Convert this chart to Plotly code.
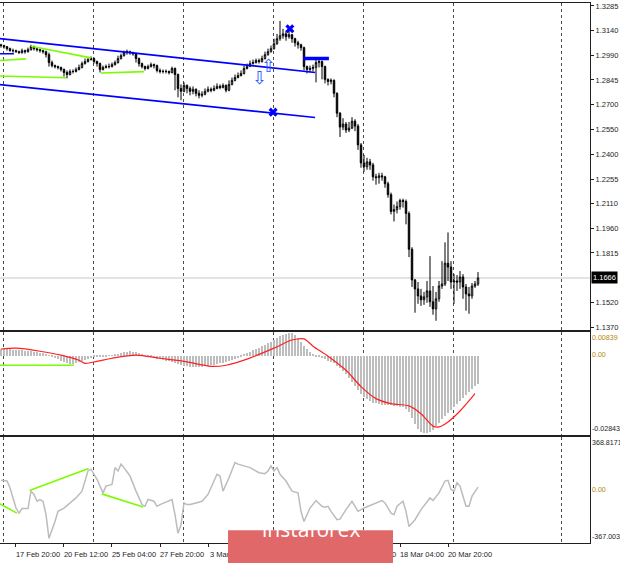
import plotly.graph_objects as go

# ---------------- DATA (GBPUSD H4) ----------------
OPEN_FIRST = 1.3054
CLOSE = [1.3049, 1.3043, 1.3031, 1.3019, 1.3019, 1.3013, 1.3007, 1.3019, 1.3013, 1.3025,
         1.3043, 1.3031, 1.3025, 1.3019, 1.3013, 1.2995, 1.2948, 1.2930, 1.2924, 1.2919,
         1.2907, 1.2889, 1.2877, 1.2895, 1.2895, 1.2907, 1.2919, 1.2942, 1.2954, 1.2966,
         1.2972, 1.2954, 1.2942, 1.2907, 1.2919, 1.2924, 1.2924, 1.2936, 1.2948, 1.2972,
         1.2989, 1.3007, 1.3013, 1.3007, 1.3001, 1.2972, 1.2942, 1.2924, 1.2913, 1.2924,
         1.2936, 1.2930, 1.2901, 1.2895, 1.2895, 1.2895, 1.2889, 1.2913, 1.2877, 1.2794,
         1.2777, 1.2812, 1.2794, 1.2777, 1.2789, 1.2765, 1.2753, 1.2759, 1.2777, 1.2789,
         1.2783, 1.2794, 1.2806, 1.2800, 1.2812, 1.2783, 1.2818, 1.2842, 1.2859, 1.2871,
         1.2883, 1.2913, 1.2924, 1.2942, 1.2948, 1.2960, 1.2954, 1.2972, 1.2995, 1.3013,
         1.3031, 1.3060, 1.3090, 1.3108, 1.3119, 1.3102, 1.3114, 1.3090, 1.3066, 1.3054,
         1.3037, 1.2924, 1.2907, 1.2913, 1.2919, 1.2948, 1.2954, 1.2924, 1.2848, 1.2836,
         1.2842, 1.2765, 1.2647, 1.2564, 1.2582, 1.2546, 1.2558, 1.2599, 1.2570, 1.2458,
         1.2351, 1.2328, 1.2357, 1.2339, 1.2268, 1.2263, 1.2274, 1.2268, 1.2227, 1.2162,
         1.2062, 1.2073, 1.2091, 1.2127, 1.2121, 1.2050, 1.1837, 1.1654, 1.1601, 1.1559,
         1.1536, 1.1553, 1.1589, 1.1524, 1.1482, 1.1542, 1.1618, 1.1630, 1.1754, 1.1731,
         1.1642, 1.1648, 1.1642, 1.1672, 1.1612, 1.1571, 1.1559, 1.1618, 1.1630, 1.1666]
HIGH = [1.3060, 1.3054, 1.3043, 1.3037, 1.3031, 1.3025, 1.3019, 1.3031, 1.3025, 1.3037,
        1.3054, 1.3049, 1.3037, 1.3031, 1.3025, 1.3019, 1.3007, 1.2960, 1.2936, 1.2930,
        1.2924, 1.2913, 1.2901, 1.2907, 1.2907, 1.2919, 1.2936, 1.2954, 1.2972, 1.2978,
        1.2984, 1.2978, 1.2960, 1.2948, 1.2930, 1.2936, 1.2942, 1.2948, 1.2960, 1.2989,
        1.3001, 1.3019, 1.3025, 1.3019, 1.3013, 1.3007, 1.2978, 1.2948, 1.2930, 1.2936,
        1.2948, 1.2942, 1.2936, 1.2913, 1.2907, 1.2907, 1.2901, 1.2924, 1.2919, 1.2883,
        1.2818, 1.2830, 1.2818, 1.2806, 1.2806, 1.2794, 1.2783, 1.2777, 1.2794, 1.2806,
        1.2800, 1.2812, 1.2824, 1.2818, 1.2824, 1.2818, 1.2842, 1.2859, 1.2877, 1.2889,
        1.2901, 1.2930, 1.2942, 1.2960, 1.2966, 1.2972, 1.2972, 1.2989, 1.3013, 1.3031,
        1.3049, 1.3090, 1.3119, 1.3196, 1.3149, 1.3137, 1.3143, 1.3119, 1.3096, 1.3078,
        1.3060, 1.3043, 1.2930, 1.2930, 1.2936, 1.2966, 1.2972, 1.2960, 1.2930, 1.2854,
        1.2854, 1.2848, 1.2771, 1.2653, 1.2617, 1.2594, 1.2594, 1.2623, 1.2611, 1.2582,
        1.2469, 1.2399, 1.2381, 1.2375, 1.2351, 1.2286, 1.2292, 1.2292, 1.2274, 1.2239,
        1.2174, 1.2103, 1.2121, 1.2138, 1.2138, 1.2133, 1.2062, 1.1849, 1.1660, 1.1642,
        1.1601, 1.1583, 1.1648, 1.1796, 1.1618, 1.1583, 1.1648, 1.1766, 1.1878, 1.1937,
        1.1766, 1.1689, 1.1683, 1.1707, 1.1689, 1.1630, 1.1612, 1.1636, 1.1648, 1.1701]
LOW = [1.3037, 1.3031, 1.3019, 1.3013, 1.3007, 1.3007, 1.3001, 1.3001, 1.3001, 1.3007,
       1.3019, 1.3019, 1.3013, 1.3007, 1.3001, 1.2978, 1.2924, 1.2919, 1.2913, 1.2907,
       1.2895, 1.2865, 1.2854, 1.2871, 1.2883, 1.2889, 1.2901, 1.2913, 1.2936, 1.2948,
       1.2960, 1.2942, 1.2924, 1.2889, 1.2901, 1.2913, 1.2913, 1.2919, 1.2930, 1.2942,
       1.2966, 1.2984, 1.2995, 1.2995, 1.2989, 1.2948, 1.2924, 1.2913, 1.2901, 1.2907,
       1.2919, 1.2913, 1.2889, 1.2883, 1.2883, 1.2883, 1.2877, 1.2883, 1.2783, 1.2741,
       1.2724, 1.2771, 1.2765, 1.2753, 1.2759, 1.2747, 1.2735, 1.2741, 1.2753, 1.2771,
       1.2771, 1.2777, 1.2789, 1.2789, 1.2794, 1.2771, 1.2777, 1.2812, 1.2836, 1.2854,
       1.2865, 1.2877, 1.2907, 1.2924, 1.2936, 1.2942, 1.2942, 1.2948, 1.2966, 1.2989,
       1.3007, 1.3025, 1.3054, 1.3078, 1.3090, 1.3078, 1.3090, 1.3066, 1.3043, 1.3031,
       1.3019, 1.2901, 1.2883, 1.2889, 1.2895, 1.2830, 1.2919, 1.2848, 1.2824, 1.2812,
       1.2818, 1.2741, 1.2623, 1.2505, 1.2546, 1.2529, 1.2534, 1.2552, 1.2540, 1.2428,
       1.2322, 1.2298, 1.2310, 1.2310, 1.2245, 1.2221, 1.2227, 1.2245, 1.2203, 1.2144,
       1.2044, 1.2002, 1.2050, 1.2073, 1.2085, 1.1985, 1.1790, 1.1612, 1.1459, 1.1512,
       1.1500, 1.1506, 1.1518, 1.1494, 1.1447, 1.1411, 1.1524, 1.1601, 1.1618, 1.1648,
       1.1601, 1.1512, 1.1589, 1.1601, 1.1542, 1.1471, 1.1453, 1.1542, 1.1607, 1.1618]
CURRENT_PRICE = 1.1666

MACD_MAIN = [0.0024, 0.0024, 0.0023, 0.0022, 0.0021, 0.0020, 0.0019, 0.0018, 0.0017, 0.0016, 0.0016,
             0.0014, 0.0012, 0.0010, 0.0008, 0.0005, 0.0001, -0.0004, -0.0008,
             -0.0013, -0.0018, -0.0023, -0.0027, -0.0030, -0.0029, -0.0027,
             -0.0024, -0.0020, -0.0016, -0.0012, -0.0009, -0.0006, -0.0004,
             -0.0005, -0.0004, -0.0003, -0.0001, 0.0001, 0.0003, 0.0006, 0.0008,
             0.0011, 0.0014, 0.0015, 0.0014, 0.0012, 0.0009,
             0.0005, 0.0001, -0.0003, -0.0006, -0.0008, -0.0011,
             -0.0014, -0.0016, -0.0018, -0.0020, -0.0022, -0.0025, -0.0029, -0.0033, -0.0036, -0.0038,
             -0.0040, -0.0041, -0.0042, -0.0042,
             -0.0041, -0.0039, -0.0037, -0.0035, -0.0033, -0.0030, -0.0027, -0.0025, -0.0023, -0.0020,
             -0.0016, -0.0012, -0.0008, -0.0003,
             0.0003, 0.0009, 0.0014, 0.0019, 0.0024, 0.0028, 0.0033, 0.0038, 0.0044, 0.0050,
             0.0057, 0.0064, 0.0070, 0.0075, 0.0078, 0.0080, 0.0079,
             0.0075, 0.0062, 0.0050, 0.0035, 0.0022, 0.0012, 0.0004,
             -0.0003, -0.0007, -0.0010, -0.0014, -0.0018, -0.0022, -0.0028, -0.0036, -0.0045, -0.0055,
             -0.0065, -0.0080, -0.0095, -0.0110, -0.0124, -0.0136, -0.0147, -0.0156, -0.0163, -0.0168,
             -0.0171, -0.0173, -0.0175, -0.0176, -0.0177, -0.0178, -0.0179, -0.0180, -0.0182, -0.0185,
             -0.0190, -0.0200, -0.0222, -0.0245, -0.0262, -0.0272, -0.0276, -0.0276, -0.0272, -0.0264,
             -0.0252, -0.0240, -0.0228, -0.0216, -0.0204, -0.0193, -0.0183, -0.0173, -0.0163, -0.0152,
             -0.0140, -0.0129, -0.0118, -0.0108, -0.0100]
SIGNAL_BARS = [0, 5, 13, 20, 26, 28, 32, 37, 45, 53, 61, 70, 75, 82, 91, 97, 101, 104, 109,
               115, 120, 125, 130, 136, 140, 144, 146, 149, 153, 158]
SIGNAL_VALUES = [0.0022, 0.0025, 0.0014, 0.0000, -0.0018, -0.0029, -0.0022, -0.0011, 0.0000,
                 -0.0011, -0.0022, -0.0040, -0.0036, -0.0014, 0.0025, 0.0054, 0.0058, 0.0032,
                 -0.0004, -0.0054, -0.0112, -0.0155, -0.0173, -0.0181, -0.0209, -0.0253,
                 -0.0256, -0.0238, -0.0199, -0.0137]
MACD_TOP, MACD_BOTTOM = 0.00839, -0.02843

CCI_BARS = [0, 2, 3, 5, 6, 7, 9, 10, 11, 12, 13, 14, 15, 16, 18, 19, 21, 23, 25, 27, 29, 30,
            32, 34, 35, 37, 38, 39, 40, 41, 43, 45, 47, 48, 49, 51, 52, 53, 56, 57, 58, 59,
            60, 61, 62, 63, 65, 67, 69, 71, 72, 73, 74, 76, 78, 79, 81, 83, 86, 88, 89, 90,
            91, 92, 93, 95, 97, 99, 100, 101, 103, 105, 107, 108, 109, 110, 112, 113, 115,
            117, 118, 119, 121, 123, 125, 127, 128, 130, 131, 132, 134, 135, 136, 138, 140,
            142, 143, 144, 146, 148, 149, 150, 151, 152, 153, 154, 155, 156, 157, 159]
CCI_VALUES = [68, 63, 16, -124, -159, -128, -128, -7, -30, -77, -65, -77, -170, -334, -217,
              -147, -124, -89, -54, -7, 133, 145, 75, -19, 28, 40, 156, 133, 180, 156, 98, -7,
              -100, -112, -65, -77, -112, -100, -77, -65, -170, -299, -240, -89, -100, -100,
              -89, -77, -30, 63, 110, 98, -7, 86, 191, 180, 168, 156, 121, 114, 133, 168, 133,
              156, 110, 63, -7, -19, -147, -217, -124, -72, -112, -119, -112, -147, -205, -201,
              -135, -77, -112, -147, -124, -105, -89, -72, -89, -159, -170, -112, -77, -147,
              -252, -205, -135, -82, -54, -72, -19, 63, 68, 5, -7, 51, 28, -42, -112, -112,
              -42, 21]
CCI_TOP, CCI_BOTTOM = 368.8171, -367.0034

# drawn objects (bar index, price / value)
CHANNEL_UPPER_BARS, CHANNEL_UPPER_PRICES = [-1, 104.7], [1.3092, 1.2889]
CHANNEL_LOWER_BARS, CHANNEL_LOWER_PRICES = [-1, 104.7], [1.2818, 1.2621]
LEVEL_LEFT_BARS, LEVEL_LEFT_PRICES = [-1, 4.3], [1.3001, 1.3001]
LEVEL_BREAK_BARS, LEVEL_BREAK_PRICES = [100.7, 109.3], [1.2972, 1.2972]
GREEN_MAIN_BARS = [[-1, 8.3], [10, 30], [-1, 21.7], [33.3, 47.7]]
GREEN_MAIN_PRICES = [[1.2960, 1.2970], [1.3045, 1.2976], [1.2868, 1.2858], [1.2886, 1.2894]]
GREEN_MACD_BARS, GREEN_MACD_VALUES = [-1, 24.3], [-0.0036, -0.0036]
GREEN_CCI_BARS = [[-1, 5.3], [9.5, 29.2], [33.6, 47.4]]
GREEN_CCI_VALUES = [[-88, -159], [-2, 149], [-26, -117]]
X_MARK_BARS, X_MARK_PRICES = [96.3, 90.7], [1.3149, 1.2653]
ARROW_BARS, ARROW_PRICES, ARROW_GLYPHS = [89.3, 86.3], [1.2919, 1.2848], ["\u21e7", "\u21e9"]

PRICE_TICKS = [1.3285, 1.3140, 1.2990, 1.2845, 1.2700, 1.2550, 1.2400, 1.2255,
               1.2110, 1.1960, 1.1815, 1.1520, 1.1370]
TIME_LABEL_BARS = [5, 21, 37, 53, 69, 85, 101, 117, 133, 149]
TIME_LABELS = ["17 Feb 20:00", "20 Feb 12:00", "25 Feb 04:00", "27 Feb 20:00", "3 Mar 12:00",
               "6 Mar 04:00", "10 Mar 20:00", "13 Mar 12:00", "18 Mar 04:00", "20 Mar 20:00"]
GRID_BARS = [0.67, 30.67, 60.67, 90.67, 120.67, 150.67, 186.67]

# ---------------- LAYOUT CONSTANTS ----------------
W, H = 620, 563
RIGHT_MARGIN = 30
X_RANGE = [-0.33, 196.33]
PRICE_RANGE = [1.13583, 1.33027]
PANELS_PX = {"main": (2, 331), "macd": (333, 437), "cci": (439, 546)}


def dom(top, bottom):
    return [1 - bottom / H, 1 - top / H]


FONT = "Liberation Sans, Arial, sans-serif"
AX_FONT = dict(family=FONT, size=7.5, color="#1e1e1e")
IND_SIZE = 7.1
GOLD = "#b8860b"
LIME = "#7cfc00"
BLUE = "#0000ff"

BARS = list(range(len(CLOSE)))
OPEN = [OPEN_FIRST] + CLOSE[:-1]

fig = go.Figure()

# main candles
fig.add_trace(go.Candlestick(
    x=BARS, open=OPEN, high=HIGH, low=LOW, close=CLOSE,
    increasing=dict(line=dict(color="black", width=1), fillcolor="white"),
    decreasing=dict(line=dict(color="black", width=1), fillcolor="black"),
    whiskerwidth=0, xaxis="x", yaxis="y", showlegend=False, hoverinfo="skip"))

# channel, levels
for bx, py, w in [(CHANNEL_UPPER_BARS, CHANNEL_UPPER_PRICES, 1.6),
                  (CHANNEL_LOWER_BARS, CHANNEL_LOWER_PRICES, 1.6),
                  (LEVEL_LEFT_BARS, LEVEL_LEFT_PRICES, 1.6),
                  (LEVEL_BREAK_BARS, LEVEL_BREAK_PRICES, 3.5)]:
    fig.add_trace(go.Scatter(x=bx, y=py, mode="lines", line=dict(color=BLUE, width=w),
                             xaxis="x", yaxis="y", showlegend=False, hoverinfo="skip"))
for bx, py in zip(GREEN_MAIN_BARS, GREEN_MAIN_PRICES):
    fig.add_trace(go.Scatter(x=bx, y=py, mode="lines", line=dict(color=LIME, width=1.6),
                             xaxis="x", yaxis="y", showlegend=False, hoverinfo="skip"))
fig.add_trace(go.Scatter(x=X_MARK_BARS, y=X_MARK_PRICES, mode="markers",
                         marker=dict(symbol="x", size=8, color=BLUE, line=dict(width=0)),
                         xaxis="x", yaxis="y", showlegend=False, hoverinfo="skip"))
fig.add_trace(go.Scatter(x=ARROW_BARS, y=ARROW_PRICES, mode="text", text=ARROW_GLYPHS,
                         textfont=dict(family="DejaVu Sans", size=18, color="#2f5bff"),
                         xaxis="x", yaxis="y", showlegend=False, hoverinfo="skip"))

# MACD
fig.add_trace(go.Bar(x=BARS, y=MACD_MAIN, width=0.55, marker=dict(color="#bdbdbd", line=dict(width=0)),
                     xaxis="x2", yaxis="y2", showlegend=False, hoverinfo="skip"))
fig.add_trace(go.Scatter(x=SIGNAL_BARS, y=SIGNAL_VALUES, mode="lines",
                         line=dict(color="#ff2020", width=1.2, shape="spline", smoothing=0.8),
                         xaxis="x2", yaxis="y2", showlegend=False, hoverinfo="skip"))
fig.add_trace(go.Scatter(x=GREEN_MACD_BARS, y=GREEN_MACD_VALUES, mode="lines",
                         line=dict(color=LIME, width=1.6),
                         xaxis="x2", yaxis="y2", showlegend=False, hoverinfo="skip"))

# CCI
fig.add_trace(go.Scatter(x=CCI_BARS, y=CCI_VALUES, mode="lines",
                         line=dict(color="#bcbcbc", width=1.5),
                         xaxis="x3", yaxis="y3", showlegend=False, hoverinfo="skip"))
for bx, vy in zip(GREEN_CCI_BARS, GREEN_CCI_VALUES):
    fig.add_trace(go.Scatter(x=bx, y=vy, mode="lines", line=dict(color=LIME, width=1.6),
                             xaxis="x3", yaxis="y3", showlegend=False, hoverinfo="skip"))

minor_grid = dict(tickmode="array", tickvals=GRID_BARS, showgrid=True, gridcolor="#4a4a4a",
                  griddash="dot", gridwidth=1, ticks="")
xcommon = dict(range=X_RANGE, domain=[0, 1], showline=True, linecolor="#202020", linewidth=1,
               mirror=True, showgrid=False, zeroline=False, fixedrange=True, minor=minor_grid)

fig.update_layout(
    width=W, height=H, margin=dict(l=0, r=RIGHT_MARGIN, t=0, b=0),
    paper_bgcolor="white", plot_bgcolor="white", showlegend=False, bargap=0,
    xaxis=dict(**xcommon, anchor="y", showticklabels=False, ticks="",
               rangeslider=dict(visible=False)),
    xaxis2=dict(**xcommon, anchor="y2", matches="x", showticklabels=False, ticks=""),
    xaxis3=dict(**xcommon, anchor="y3", matches="x", tickmode="array",
                tickvals=TIME_LABEL_BARS, ticktext=TIME_LABELS, ticks="outside", ticklen=3,
                tickcolor="#202020", tickfont=AX_FONT, ticklabelshift=22, ticklabelstandoff=1),
    yaxis=dict(domain=dom(*PANELS_PX["main"]), range=PRICE_RANGE, side="right", anchor="x",
               tickmode="array", tickvals=PRICE_TICKS, ticktext=[f"{v:.4f}" for v in PRICE_TICKS],
               ticks="outside", ticklen=3, tickcolor="#202020", tickfont=AX_FONT,
               showline=True, linecolor="#202020", showgrid=False, zeroline=False, fixedrange=True),
    yaxis2=dict(domain=dom(*PANELS_PX["macd"]), range=[MACD_BOTTOM, MACD_TOP], side="right",
                anchor="x2", showticklabels=False, ticks="", showline=True, linecolor="#202020",
                showgrid=False, zeroline=False, fixedrange=True),
    yaxis3=dict(domain=dom(*PANELS_PX["cci"]), range=[CCI_BOTTOM, CCI_TOP], side="right",
                anchor="x3", showticklabels=False, ticks="", showline=True, linecolor="#202020",
                showgrid=False, zeroline=False, fixedrange=True),
)

# current price line and label
fig.add_shape(type="line", xref="x domain", yref="y", x0=0, x1=1, y0=CURRENT_PRICE, y1=CURRENT_PRICE,
              line=dict(color="#c8c8c8", width=1), layer="below")
fig.add_annotation(xref="x domain", yref="y", x=1, y=CURRENT_PRICE, xanchor="left", xshift=1,
                   text=f"{CURRENT_PRICE:.4f}", showarrow=False, bgcolor="black",
                   font=dict(family=FONT, size=7.5, color="white"), borderpad=1)

# indicator scale labels
for ax, top_txt, bot_txt, top_col in [
        ("y2", f"{MACD_TOP:.5f}", f"{MACD_BOTTOM:.5f}", GOLD),
        ("y3", f"{CCI_TOP:.4f}", f"{CCI_BOTTOM:.4f}", "#1e1e1e")]:
    xd = "x2 domain" if ax == "y2" else "x3 domain"
    fig.add_annotation(xref=xd, yref=f"{ax} domain", x=1, y=1, xanchor="left", yanchor="top",
                       xshift=0, text=top_txt, showarrow=False,
                       font=dict(family=FONT, size=IND_SIZE, color=top_col))
    fig.add_annotation(xref=xd, yref=ax, x=1, y=0, xanchor="left", yanchor="middle",
                       xshift=0, text="0.00", showarrow=False,
                       font=dict(family=FONT, size=IND_SIZE, color=GOLD))
    fig.add_annotation(xref=xd, yref=f"{ax} domain", x=1, y=0, xanchor="left", yanchor="bottom",
                       xshift=0, text=bot_txt, showarrow=False,
                       font=dict(family=FONT, size=IND_SIZE, color="#1e1e1e"))

# watermark
WM_X0, WM_X1, WM_Y0, WM_Y1 = 228 / 590, 393 / 590, 1 - 533 / H, -0.02
fig.add_shape(type="rect", xref="paper", yref="paper", x0=WM_X0, x1=WM_X1, y0=WM_Y1, y1=WM_Y0,
              fillcolor="#e06868", line=dict(width=0), layer="above")
fig.add_annotation(xref="paper", yref="paper", x=(WM_X0 + WM_X1) / 2, y=1 - 548 / H,
                   text="instaforex", showarrow=False,
                   font=dict(family="Open Sans, sans-serif", size=21, color="white"))

fig.write_html("out.html", config={"displayModeBar": False},
               post_script="document.body.style.margin='0';document.body.style.overflow='hidden';")
